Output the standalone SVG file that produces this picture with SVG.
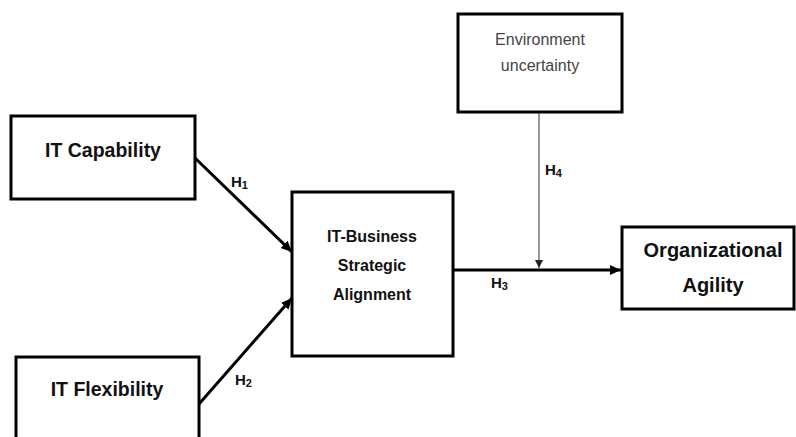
<svg xmlns="http://www.w3.org/2000/svg" width="796" height="437" viewBox="0 0 796 437">
<style>
.box{fill:#fff;stroke:#000;stroke-width:3}
.t{font-family:"Liberation Sans",Arial,sans-serif;font-weight:bold;fill:#111;text-anchor:middle}
.env{font-family:"Liberation Sans",Arial,sans-serif;fill:#444;text-anchor:middle;font-size:16px}
.h{font-family:"Liberation Sans",Arial,sans-serif;font-weight:bold;fill:#111;font-size:15px}
.sub{font-size:11px}
.thick{stroke:#000;stroke-width:3;fill:none}
.thin{stroke:#555;stroke-width:1.2;fill:none}
</style>
<defs>
<marker id="ah" markerUnits="userSpaceOnUse" markerWidth="12" markerHeight="12" refX="11" refY="6" orient="auto">
<path d="M0,1 L11,6 L0,11 Z" fill="#000"/>
</marker>
<marker id="ahs" markerUnits="userSpaceOnUse" markerWidth="10" markerHeight="10" refX="8" refY="4" orient="auto">
<path d="M0,0 L8,4 L0,8 Z" fill="#222"/>
</marker>
</defs>
<rect width="796" height="437" fill="#fff"/>
<g id="connectors">
<line class="thick" x1="195" y1="158" x2="292" y2="252" marker-end="url(#ah)"/>
<line class="thick" x1="199" y1="404" x2="292" y2="298" marker-end="url(#ah)"/>
<line class="thick" x1="453" y1="270" x2="621" y2="270" marker-end="url(#ah)"/>
<line class="thin" x1="539" y1="113" x2="539" y2="268" marker-end="url(#ahs)"/>
<text class="h" x="231" y="187">H<tspan class="sub" dy="2">1</tspan></text>
<text class="h" x="235" y="385">H<tspan class="sub" dy="2">2</tspan></text>
<text class="h" x="491" y="288">H<tspan class="sub" dy="2">3</tspan></text>
<text class="h" x="545" y="175">H<tspan class="sub" dy="2">4</tspan></text>
</g>
<g id="it-capability">
<rect class="box" x="11" y="116" width="184" height="83"/>
<text class="t" x="103" y="157" font-size="19.5">IT Capability</text>
</g>
<g id="it-flexibility">
<rect class="box" x="16" y="357" width="183" height="100"/>
<text class="t" x="107" y="396" font-size="19.5">IT Flexibility</text>
</g>
<g id="it-business">
<rect class="box" x="292" y="192" width="161" height="164"/>
<text class="t" x="372" y="242" font-size="16">IT-Business</text>
<text class="t" x="372" y="271" font-size="16">Strategic</text>
<text class="t" x="372" y="300" font-size="16">Alignment</text>
</g>
<g id="environment">
<rect class="box" x="458" y="14" width="164" height="98"/>
<text class="env" x="540" y="45">Environment</text>
<text class="env" x="540" y="71">uncertainty</text>
</g>
<g id="organizational-agility">
<rect class="box" x="622" y="227" width="172" height="82"/>
<text class="t" x="713" y="257" font-size="20">Organizational</text>
<text class="t" x="713" y="292" font-size="20">Agility</text>
</g>
</svg>
